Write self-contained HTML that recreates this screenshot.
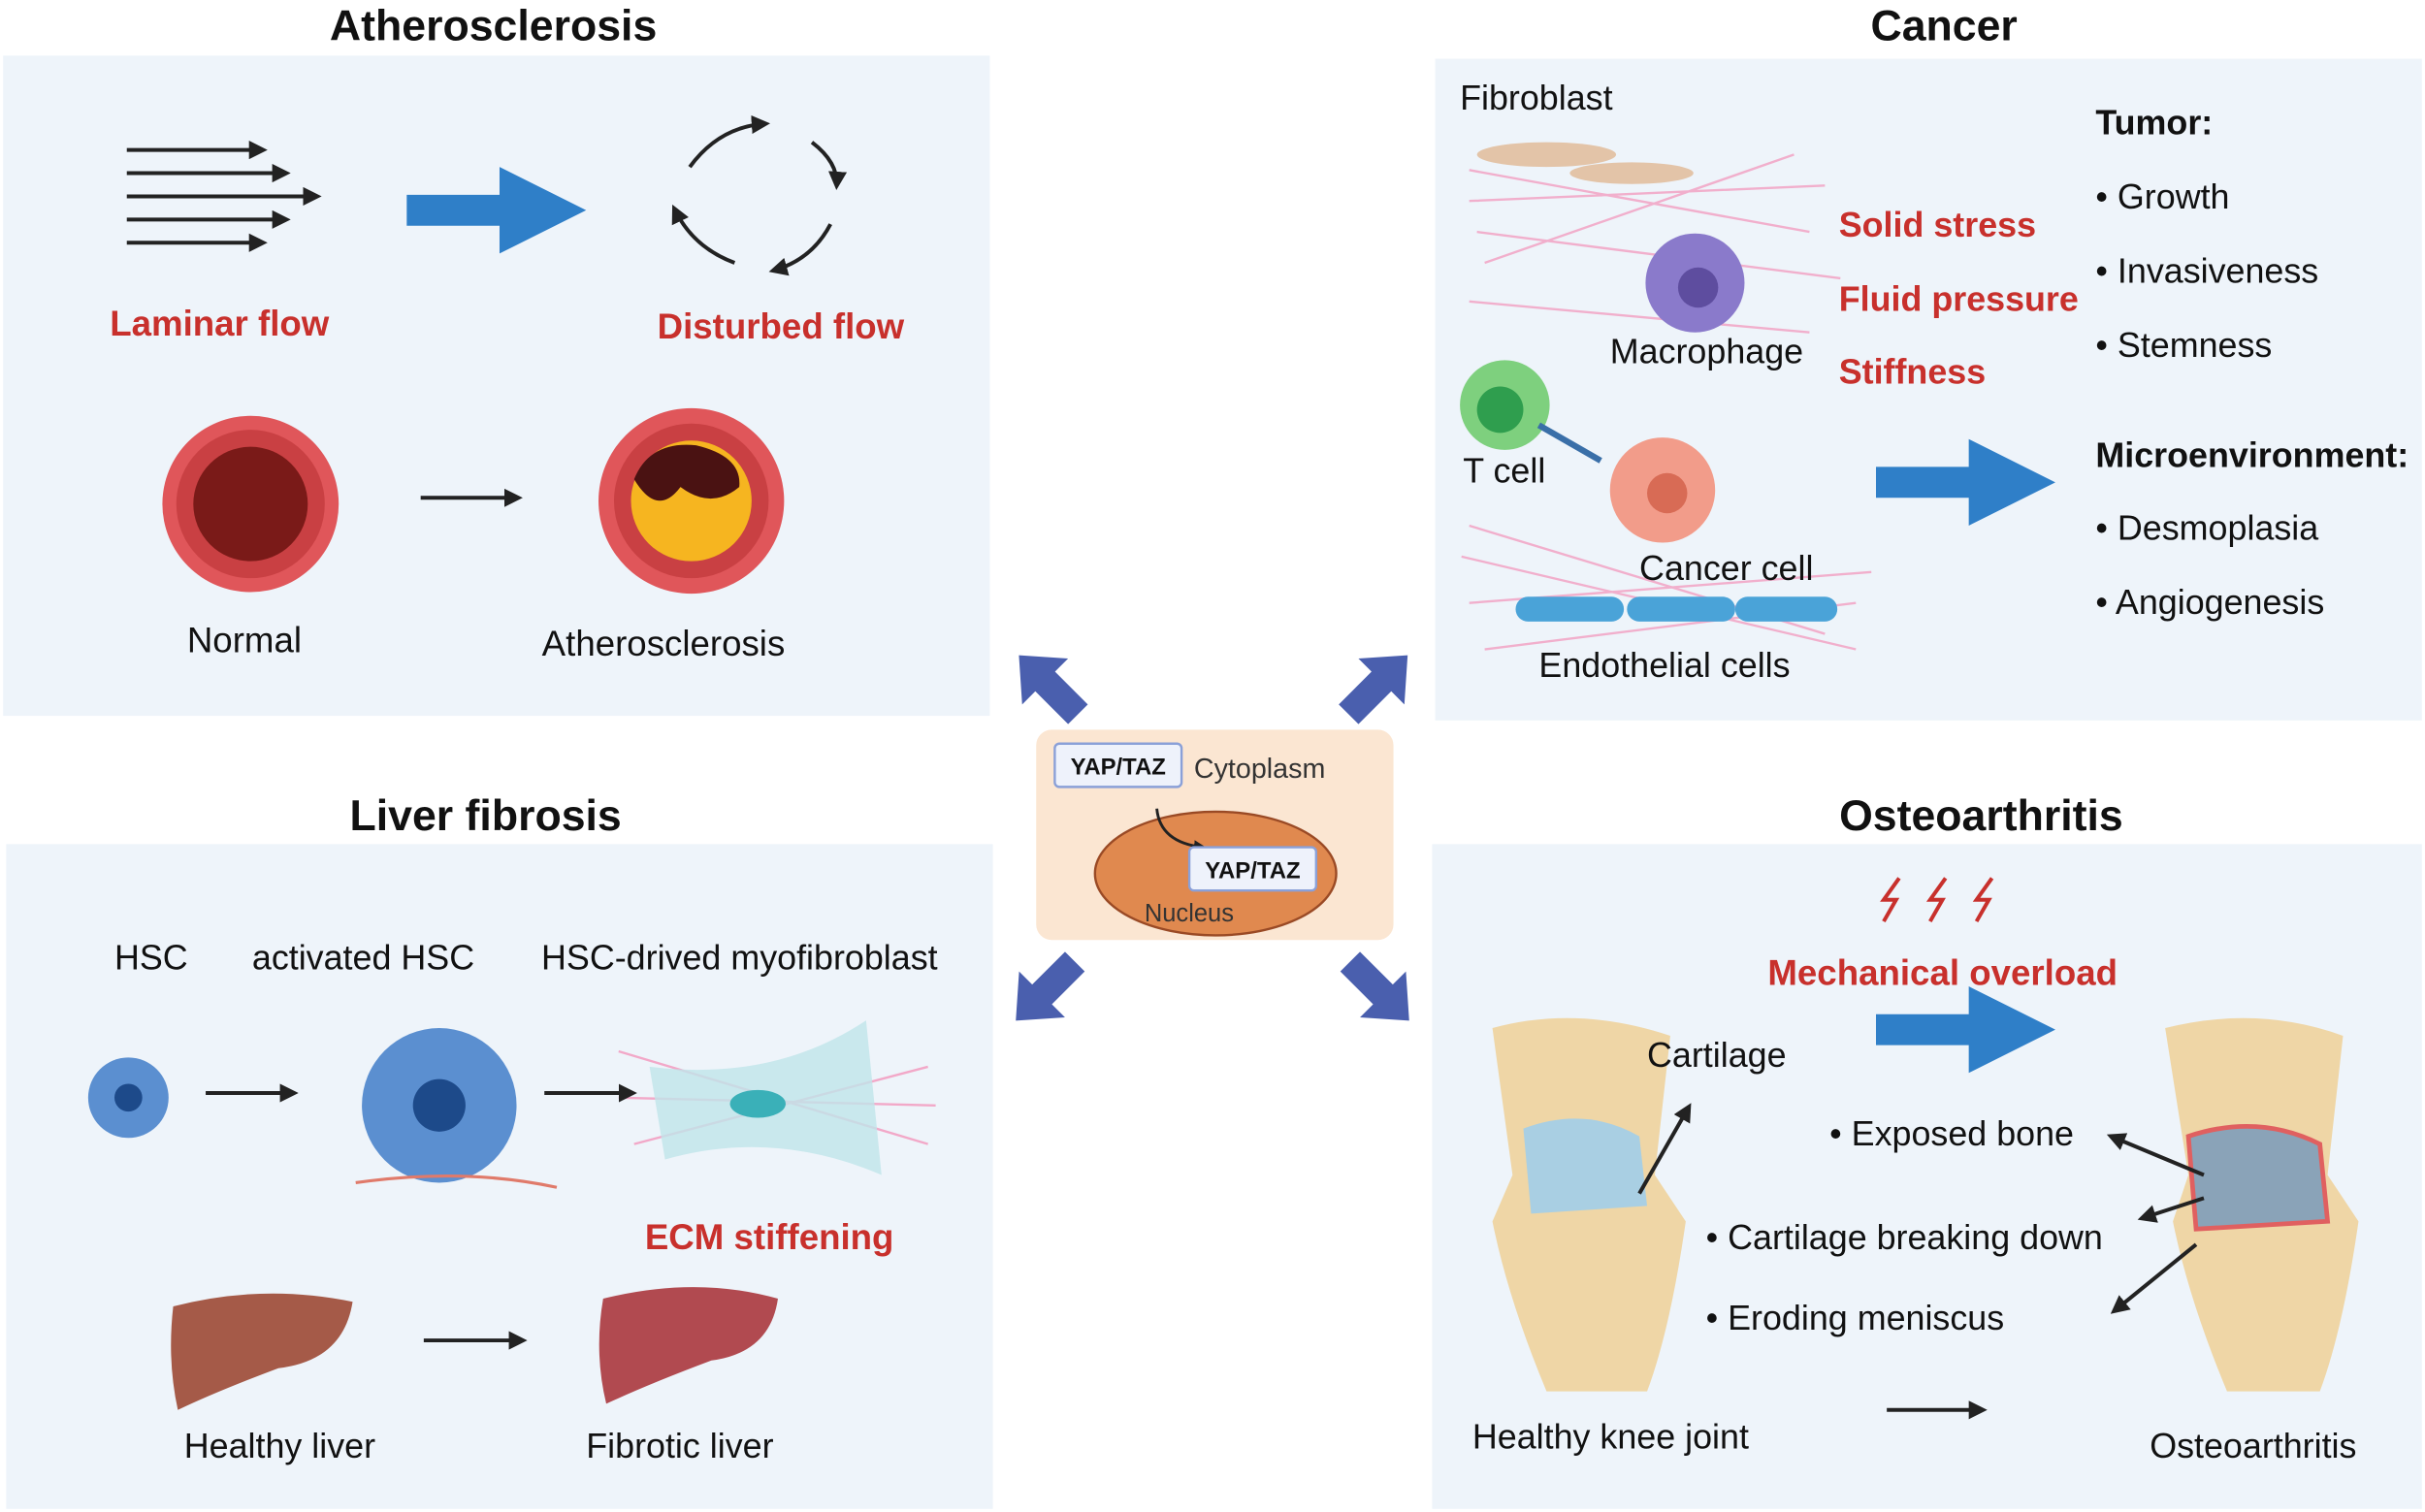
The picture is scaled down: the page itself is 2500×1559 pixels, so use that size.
<!DOCTYPE html>
<html><head><meta charset="utf-8"><style>
html,body{margin:0;padding:0;background:#fff;}
svg{display:block;}
text{font-family:"Liberation Sans",Arial,sans-serif;}
</style></head><body>
<svg width="2500" height="1559" viewBox="0 0 1568 978" preserveAspectRatio="none" xmlns="http://www.w3.org/2000/svg">
<defs>
<marker id="ah" markerWidth="8" markerHeight="8" refX="6" refY="4" orient="auto" markerUnits="userSpaceOnUse"><path d="M0,0 L8,4 L0,8 z" fill="#222"/></marker>
<marker id="ah2" markerWidth="12" markerHeight="12" refX="9" refY="6" orient="auto" markerUnits="userSpaceOnUse"><path d="M0,0 L12,6 L0,12 z" fill="#222"/></marker>
</defs>
<rect width="1568" height="978" fill="#fff"/>
<rect x="2" y="36" width="638" height="427" fill="#eef4fa"/>
<rect x="928" y="38" width="638" height="428" fill="#eef4fa"/>
<rect x="4" y="546" width="638" height="430" fill="#eef4fa"/>
<rect x="926" y="546" width="640" height="430" fill="#eef4fa"/>
<g font-weight="bold" font-size="28" fill="#111" text-anchor="middle">
<text x="319" y="26">Atherosclerosis</text>
<text x="1257" y="26">Cancer</text>
<text x="314" y="537">Liver fibrosis</text>
<text x="1281" y="537">Osteoarthritis</text>
</g>
<g stroke="#222" stroke-width="2.5">
<line x1="82" y1="97" x2="170" y2="97" marker-end="url(#ah2)"/>
<line x1="82" y1="112" x2="185" y2="112" marker-end="url(#ah2)"/>
<line x1="82" y1="127" x2="205" y2="127" marker-end="url(#ah2)"/>
<line x1="82" y1="142" x2="185" y2="142" marker-end="url(#ah2)"/>
<line x1="82" y1="157" x2="170" y2="157" marker-end="url(#ah2)"/>
</g>
<path d="M263,126 h60 v-18 l56,28 l-56,28 v-18 h-60z" fill="#2f7fc8"/>
<g stroke="#222" stroke-width="2.5" fill="none">
<path d="M446,108 Q465,82 495,80" marker-end="url(#ah2)"/>
<path d="M525,92 Q542,105 541,120" marker-end="url(#ah2)"/>
<path d="M537,145 Q525,168 500,175" marker-end="url(#ah2)"/>
<path d="M475,170 Q448,160 436,135" marker-end="url(#ah2)"/>
</g>
<g font-weight="bold" font-size="23" fill="#c8302c">
<text x="71" y="217">Laminar flow</text>
<text x="425" y="219">Disturbed flow</text>
</g>
<circle cx="162" cy="326" r="57" fill="#e0565a"/>
<circle cx="162" cy="326" r="48" fill="#c94043"/>
<circle cx="162" cy="326" r="37" fill="#7a1a18"/>
<circle cx="447" cy="324" r="60" fill="#e0565a"/>
<circle cx="447" cy="324" r="50" fill="#c94043"/>
<circle cx="447" cy="324" r="39" fill="#f6b520"/>
<path d="M410,310 Q420,285 450,288 Q480,295 478,315 Q460,330 440,315 Q425,335 410,310z" fill="#4a1212"/>
<line x1="272" y1="322" x2="335" y2="322" stroke="#222" stroke-width="2.5" marker-end="url(#ah2)"/>
<g font-size="23" fill="#111" text-anchor="middle">
<text x="158" y="422">Normal</text>
<text x="429" y="424">Atherosclerosis</text>
</g>
<g stroke="#f2a8c8" stroke-width="1.5" opacity="0.9">
<path d="M950,110 L1170,150 M950,130 L1180,120 M960,170 L1160,100 M955,150 L1190,180 M950,195 L1170,215"/>
<path d="M945,360 L1200,420 M950,390 L1210,370 M960,420 L1200,390 M950,340 L1180,410"/>
</g>
<ellipse cx="1000" cy="100" rx="45" ry="8" fill="#e3c4a8"/>
<ellipse cx="1055" cy="112" rx="40" ry="7" fill="#e3c4a8"/>
<circle cx="1096" cy="183" r="32" fill="#8a7acb"/>
<circle cx="1098" cy="186" r="13" fill="#5e4d9f"/>
<circle cx="973" cy="262" r="29" fill="#7ed07e"/>
<circle cx="970" cy="265" r="15" fill="#2f9e4e"/>
<line x1="995" y1="275" x2="1035" y2="298" stroke="#3a6fa8" stroke-width="4"/>
<circle cx="1075" cy="317" r="34" fill="#f29c8a"/>
<circle cx="1078" cy="319" r="13" fill="#d86b55"/>
<rect x="980" y="386" width="70" height="16" rx="8" fill="#4aa3d8"/>
<rect x="1052" y="386" width="70" height="16" rx="8" fill="#4aa3d8"/>
<rect x="1122" y="386" width="66" height="16" rx="8" fill="#4aa3d8"/>
<g font-size="22.5" fill="#111">
<text x="944" y="71">Fibroblast</text>
<text x="1041" y="235">Macrophage</text>
<text x="946" y="312">T cell</text>
<text x="1060" y="375">Cancer cell</text>
<text x="995" y="438">Endothelial cells</text>
</g>
<g font-weight="bold" font-size="22.5" fill="#c8302c">
<text x="1189" y="153">Solid stress</text>
<text x="1189" y="201">Fluid pressure</text>
<text x="1189" y="248">Stiffness</text>
</g>
<g font-size="22.5" fill="#111">
<text x="1355" y="87" font-weight="bold">Tumor:</text>
<text x="1355" y="135">• Growth</text>
<text x="1355" y="183">• Invasiveness</text>
<text x="1355" y="231">•  Stemness</text>
<text x="1355" y="302" font-weight="bold">Microenvironment:</text>
<text x="1355" y="349">•  Desmoplasia</text>
<text x="1355" y="397">•  Angiogenesis</text>
</g>
<path d="M1213,302 h60 v-18 l56,28 l-56,28 v-18 h-60z" fill="#2f7fc8"/>
<rect x="670" y="472" width="231" height="136" rx="10" fill="#fbe6d2"/>
<ellipse cx="786" cy="565" rx="78" ry="40" fill="#e0894f" stroke="#9a4a25" stroke-width="1.5"/>
<rect x="682" y="481" width="82" height="28" rx="3" fill="#eef2fb" stroke="#8aa0d8" stroke-width="1.5"/>
<text x="723" y="501" font-size="15" font-weight="bold" text-anchor="middle" fill="#111">YAP/TAZ</text>
<text x="772" y="503" font-size="18" fill="#333">Cytoplasm</text>
<path d="M748,523 Q750,545 778,548" stroke="#222" stroke-width="1.8" fill="none" marker-end="url(#ah)"/>
<rect x="769" y="548" width="82" height="28" rx="3" fill="#eef2fb" stroke="#8aa0d8" stroke-width="1.5"/>
<text x="810" y="568" font-size="15" font-weight="bold" text-anchor="middle" fill="#111">YAP/TAZ</text>
<text x="740" y="596" font-size="16" fill="#333">Nucleus</text>
<g fill="#4a5fae">
<path d="M0,-9 h30 v-12 l24,21 l-24,21 v-12 h-30z" transform="translate(697,462) rotate(-135)"/>
<path d="M0,-9 h30 v-12 l24,21 l-24,21 v-12 h-30z" transform="translate(872,462) rotate(-45)"/>
<path d="M0,-9 h30 v-12 l24,21 l-24,21 v-12 h-30z" transform="translate(695,622) rotate(135)"/>
<path d="M0,-9 h30 v-12 l24,21 l-24,21 v-12 h-30z" transform="translate(873,622) rotate(45)"/>
</g>
<g font-size="22.5" fill="#111">
<text x="74" y="627">HSC</text>
<text x="163" y="627">activated  HSC</text>
<text x="350" y="627">HSC-drived myofibroblast</text>
<text x="119" y="943">Healthy liver</text>
<text x="379" y="943">Fibrotic liver</text>
</g>
<circle cx="83" cy="710" r="26" fill="#5b8fd0"/>
<circle cx="83" cy="710" r="9" fill="#1d4a8a"/>
<circle cx="284" cy="715" r="50" fill="#5b8fd0"/>
<circle cx="284" cy="715" r="17" fill="#1d4a8a"/>
<path d="M230,765 Q300,755 360,768" stroke="#e07a6a" stroke-width="2" fill="none"/>
<g stroke="#f2a8c8" stroke-width="1.5"><path d="M400,680 L600,740 M410,740 L600,690 M400,710 L605,715"/></g>
<path d="M420,690 Q500,700 560,660 L570,760 Q500,730 430,750z" fill="#bfe5ea" opacity="0.8"/>
<ellipse cx="490" cy="714" rx="18" ry="9" fill="#3ab0b8"/>
<g stroke="#222" stroke-width="2.5">
<line x1="133" y1="707" x2="190" y2="707" marker-end="url(#ah2)"/>
<line x1="352" y1="707" x2="409" y2="707" marker-end="url(#ah2)"/>
<line x1="274" y1="867" x2="338" y2="867" marker-end="url(#ah2)"/>
</g>
<text x="417" y="808" font-size="23" font-weight="bold" fill="#c8302c">ECM stiffening</text>
<path d="M112,845 Q170,830 228,842 Q222,880 180,885 Q140,900 115,912 Q108,880 112,845z" fill="#a55a48"/>
<path d="M390,840 Q450,825 503,840 Q498,875 460,880 Q420,895 392,908 Q384,875 390,840z" fill="#b14a50"/>
<g fill="none" stroke="#c8302c" stroke-width="2.5">
<path d="M1228,568 l-10,14 h8 l-8,14"/>
<path d="M1258,568 l-10,14 h8 l-8,14"/>
<path d="M1288,568 l-10,14 h8 l-8,14"/>
</g>
<text x="1143" y="637" font-size="23" font-weight="bold" fill="#c8302c">Mechanical overload</text>
<path d="M1213,656 h60 v-18 l56,28 l-56,28 v-18 h-60z" fill="#2f7fc8"/>
<path d="M965,665 Q1020,650 1080,670 L1070,760 L1090,790 Q1080,860 1065,900 L1000,900 Q975,840 965,790 L978,760z" fill="#efd6a6"/>
<path d="M985,730 Q1025,715 1060,735 L1065,780 L990,785z" fill="#a9cfe3"/>
<path d="M1400,665 Q1460,650 1515,670 L1505,760 L1525,790 Q1515,860 1500,900 L1440,900 Q1415,840 1405,790 L1415,760z" fill="#efd6a6"/>
<path d="M1415,735 Q1460,720 1500,740 L1505,790 L1420,795z" fill="#8aa3b8" stroke="#e06060" stroke-width="3"/>
<g font-size="22.5" fill="#111">
<text x="1065" y="690">Cartilage</text>
<text x="1183" y="741">• Exposed bone</text>
<text x="1103" y="808">• Cartilage  breaking down</text>
<text x="1103" y="860">• Eroding meniscus</text>
<text x="952" y="937">Healthy knee joint</text>
<text x="1390" y="943">Osteoarthritis</text>
</g>
<g stroke="#222" stroke-width="2.5">
<line x1="1060" y1="772" x2="1092" y2="716" marker-end="url(#ah2)"/>
<line x1="1425" y1="760" x2="1365" y2="735" marker-end="url(#ah2)"/>
<line x1="1425" y1="775" x2="1385" y2="788" marker-end="url(#ah2)"/>
<line x1="1420" y1="805" x2="1367" y2="848" marker-end="url(#ah2)"/>
<line x1="1220" y1="912" x2="1282" y2="912" marker-end="url(#ah2)"/>
</g>
</svg>
</body></html>
